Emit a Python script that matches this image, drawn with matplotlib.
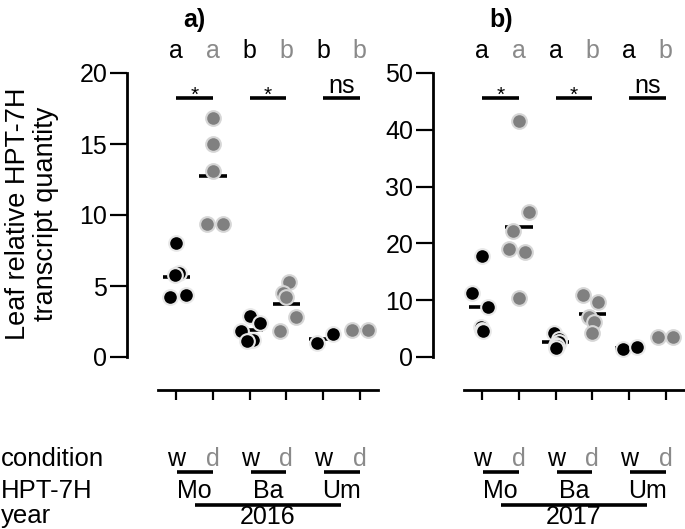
import numpy as np
import matplotlib.pyplot as plt
from matplotlib import transforms

plt.rcParams['font.family'] = ['Liberation Sans', 'DejaVu Sans']

# ---- data ----
groups = ['Mo', 'Ba', 'Um']
conditions = ['w', 'd']

# 2016 (panel a)
mo_w_2016 = [8.0, 5.9, 5.8, 4.4, 4.2]
mo_d_2016 = [16.8, 15.0, 13.1, 9.4, 9.4]
ba_w_2016 = [2.9, 2.4, 1.8, 1.2, 1.1]
ba_d_2016 = [5.3, 4.5, 4.2, 2.8, 1.8]
um_w_2016 = [1.0, 1.6]
um_d_2016 = [1.9, 1.9]

# 2017 (panel b)
mo_w_2017 = [17.8, 11.3, 8.8, 5.3, 4.8, 4.6]
mo_d_2017 = [41.5, 25.5, 22.2, 19.0, 18.5, 10.4]
ba_w_2017 = [4.2, 3.1, 2.7, 2.2, 1.9, 1.5]
ba_d_2017 = [10.9, 9.7, 7.0, 6.2, 4.2]
um_w_2017 = [1.4, 1.8]
um_d_2017 = [3.5, 3.5]

# horizontal scatter offsets of the points inside each column
jit_2016 = [[0.0, 0.08, -0.05, 0.27, -0.16],
            [0.0, 0.0, 0.0, -0.16, 0.27],
            [0.0, 0.27, -0.25, 0.08, -0.08],
            [0.08, -0.1, 0.0, 0.25, -0.16],
            [-0.16, 0.27],
            [-0.22, 0.22]]
jit_2017 = [[0.0, -0.27, 0.16, -0.03, 0.0, 0.02],
            [0.0, 0.27, -0.16, -0.27, 0.16, 0.0],
            [-0.05, 0.08, 0.08, 0.0, 0.03, 0.0],
            [-0.25, 0.16, -0.1, 0.05, 0.0],
            [-0.16, 0.22],
            [-0.2, 0.2]]

letters_2016 = ['a', 'a', 'b', 'b', 'b', 'b']
letters_2017 = ['a', 'a', 'a', 'b', 'a', 'b']
sig_2016 = ['*', '*', 'ns']
sig_2017 = ['*', '*', 'ns']

BLACK = 'black'
GREY = '#808080'
GREY_TXT = '#8a8a8a'
FS = 18

W, H = 685, 529
fig = plt.figure(figsize=(W / 100, H / 100), dpi=100)


def fy(py):
    # pixel row (from top) -> figure fraction
    return 1 - py / H


def draw_panel(left_px, values, jitters, ymax, ystep, letters, sig, year, tag):
    ax = fig.add_axes([left_px / W, fy(357), 220 / W, 284 / H])
    ax.set_xlim(-0.5, 5.5)
    ax.set_ylim(0, ymax)
    for s in ['top', 'right']:
        ax.spines[s].set_visible(False)
    ax.spines['left'].set_position(('outward', 22.5))
    ax.spines['bottom'].set_position(('outward', 24))
    ax.spines['left'].set_bounds(0, ymax)
    for s in ['left', 'bottom']:
        ax.spines[s].set_linewidth(2)
    ax.set_xticks(range(6))
    ax.set_xticklabels([])
    ax.set_yticks(np.arange(0, ymax + 0.1, ystep))
    ax.tick_params(axis='x', length=7, width=1.6, direction='out')
    ax.tick_params(axis='y', length=12, width=1.6, pad=2, labelsize=FS)

    for i, (vals, jit) in enumerate(zip(values, jitters)):
        col = BLACK if i % 2 == 0 else GREY
        edge = '#e8e8e8' if i % 2 == 0 else '#d6d6d6'
        m = np.mean(vals)
        ax.plot([i - 0.37, i + 0.37], [m, m], color='black', lw=2.6,
                solid_capstyle='butt', zorder=2, clip_on=False)
        ax.scatter(i + np.array(jit), vals, s=112, color=col, edgecolor=edge,
                   linewidth=1.5, zorder=3, clip_on=False)

    tr = transforms.blended_transform_factory(ax.transData, fig.transFigure)
    # letters and significance bars above
    for i, let in enumerate(letters):
        ax.text(i, fy(58), let, transform=tr, ha='center', va='baseline',
                fontsize=FS, color=BLACK if i % 2 == 0 else GREY_TXT)
    for k, s in enumerate(sig):
        x0, x1 = 2 * k, 2 * k + 1
        ax.plot([x0, x1], [fy(98), fy(98)], transform=tr, color='black',
                lw=2.6, clip_on=False, solid_capstyle='butt')
        if s == '*':
            ax.text((x0 + x1) / 2, fy(101), s, transform=tr, ha='center',
                    va='baseline', fontsize=15)
        else:
            ax.text((x0 + x1) / 2, fy(93), s, transform=tr, ha='center',
                    va='baseline', fontsize=FS)

    # table below the axis
    for i in range(6):
        ax.text(i, fy(466), conditions[i % 2], transform=tr, ha='center',
                va='baseline', fontsize=FS,
                color=BLACK if i % 2 == 0 else GREY_TXT)
    for k, g in enumerate(groups):
        x0, x1 = 2 * k, 2 * k + 1
        ax.plot([x0 + 0.03, x1], [fy(472), fy(472)], transform=tr,
                color='black', lw=2.6, clip_on=False, solid_capstyle='butt')
        ax.text((x0 + x1) / 2, fy(498), g, transform=tr, ha='center',
                va='baseline', fontsize=FS)
    ax.plot([0.5, 4.5], [fy(505), fy(505)], transform=tr, color='black',
            lw=2.6, clip_on=False, solid_capstyle='butt')
    ax.text(2.5, fy(524), year, transform=tr, ha='center', va='baseline',
            fontsize=FS)

    fig.text((left_px + 25) / W, fy(27), tag, fontsize=FS, fontweight='bold',
             ha='left', va='baseline')
    return ax


draw_panel(158, [mo_w_2016, mo_d_2016, ba_w_2016, ba_d_2016, um_w_2016, um_d_2016],
           jit_2016, 20, 5, letters_2016, sig_2016, '2016', 'a)')
draw_panel(464, [mo_w_2017, mo_d_2017, ba_w_2017, ba_d_2017, um_w_2017, um_d_2017],
           jit_2017, 50, 10, letters_2017, sig_2017, '2017', 'b)')

fig.text(32 / W, fy(214), 'Leaf relative HPT-7H\ntranscript quantity',
         rotation=90, ha='center', va='center', fontsize=19.5, linespacing=1.1,
         multialignment='center')
fig.text(1 / W, fy(466), 'condition', fontsize=18.5, va='baseline')
fig.text(1 / W, fy(498), 'HPT-7H', fontsize=18.5, va='baseline')
fig.text(1 / W, fy(523), 'year', fontsize=18.5, va='baseline')

fig.savefig('out.png', dpi=100)
